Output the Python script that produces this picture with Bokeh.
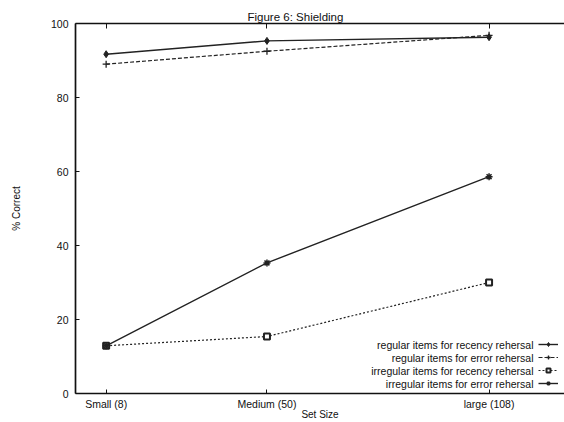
from bokeh.plotting import figure
from bokeh.models import (Range1d, FixedTicker, LinearAxis, Label, Legend, LegendItem)
from bokeh.embed import file_html
from bokeh.resources import INLINE

# ---- data ----
set_sizes = [8, 50, 108]
set_labels = ["Small (8)", "Medium (50)", "large (108)"]
reg_recency = [91.7, 95.3, 96.3]
reg_error = [89.0, 92.5, 96.8]
irr_recency = [12.9, 15.4, 30.0]
irr_error = [12.9, 35.3, 58.6]
series_names = [
    "regular items for recency rehersal",
    "regular items for error rehersal",
    "irregular items for recency rehersal",
    "irregular items for error rehersal",
]
y_ticks = [0, 20, 40, 60, 80, 100]
X_MAX = 127.7

FONT = "Liberation Sans"
INK = "#111111"
FS = "10.5px"

p = figure(width=564, height=422, output_backend="svg", toolbar_location=None,
           x_range=Range1d(0, X_MAX), y_range=Range1d(0, 100),
           min_border_left=75, min_border_top=23, min_border_right=0,
           min_border_bottom=27)
p.outline_line_color = None
p.xgrid.visible = False
p.ygrid.visible = False
p.background_fill_color = "white"
p.border_fill_color = "white"

# title
p.title.text = "Figure 6:  Shielding"
p.title.align = "left"
p.title.offset = 172
p.title.standoff = 1
p.title.text_font = FONT
p.title.text_font_size = "11.5px"
p.title.text_font_style = "normal"
p.title.text_color = INK

# axes
xa = p.xaxis[0]
xa.ticker = FixedTicker(ticks=set_sizes)
xa.bounds = (0, X_MAX)
xa.major_label_overrides = {s: l for s, l in zip(set_sizes, set_labels)}
xa.minor_tick_line_color = None
xa.major_tick_in = 4
xa.major_tick_out = 0
xa.axis_line_width = 1.7
xa.axis_line_color = INK
xa.major_tick_line_color = INK
xa.major_label_text_font = FONT
xa.major_label_text_font_size = FS
xa.major_label_text_color = INK
xa.major_label_standoff = 4
xa.axis_label = "Set Size"
xa.axis_label_text_font = FONT
xa.axis_label_text_font_size = "10px"
xa.axis_label_text_font_style = "normal"
xa.axis_label_text_color = INK
xa.axis_label_standoff = -4

ya = p.yaxis[0]
ya.ticker = FixedTicker(ticks=y_ticks)
ya.minor_tick_line_color = None
ya.major_tick_in = 4
ya.major_tick_out = 0
ya.axis_line_width = 1.7
ya.axis_line_color = INK
ya.major_tick_line_color = INK
ya.major_label_text_font = FONT
ya.major_label_text_font_size = FS
ya.major_label_text_color = INK
ya.major_label_standoff = 7
ya.axis_label = "% Correct"
ya.axis_label_text_font = FONT
ya.axis_label_text_font_size = "10px"
ya.axis_label_text_font_style = "normal"
ya.axis_label_text_color = INK
ya.axis_label_standoff = 26

top = LinearAxis(ticker=FixedTicker(ticks=set_sizes))
top.bounds = (0, X_MAX)
top.major_label_overrides = {s: "" for s in set_sizes}
top.major_label_standoff = 0
top.minor_tick_line_color = None
top.major_tick_in = 5
top.major_tick_out = 0
top.axis_line_width = 1.7
top.axis_line_color = INK
top.major_tick_line_color = INK
p.add_layout(top, "above")

# series
LC = "#222222"
r1l = p.line(set_sizes, reg_recency, line_color=LC, line_width=1.4)
r1m = p.scatter(set_sizes, reg_recency, marker="diamond", size=7, color=LC)
r2l = p.line(set_sizes, reg_error, line_color=LC, line_width=1.2, line_dash="4 2")
r2m = p.scatter(set_sizes, reg_error, marker="cross", size=7, line_color=LC, line_width=1.3)
r3l = p.line(set_sizes, irr_recency, line_color=LC, line_width=1.2, line_dash="2 2")
r3m = p.scatter(set_sizes, irr_recency, marker="square", size=6, line_color=LC,
                fill_color="white", line_width=2)
r4l = p.line(set_sizes, irr_error, line_color=LC, line_width=1.4)
r4m = p.scatter(set_sizes, irr_error, marker="asterisk", size=7, line_color=LC, line_width=1.5)

renderer_pairs = [(r1l, r1m), (r2l, r2m), (r3l, r3m), (r4l, r4m)]

# legend samples (glyphs on the right, text drawn separately to their left)
legend = Legend(items=[LegendItem(label=" ", renderers=list(rp)) for rp in renderer_pairs],
                location=(463, 5), orientation="vertical", padding=0, margin=0,
                spacing=3, glyph_width=20, glyph_height=10, label_width=0,
                label_height=6, label_standoff=0, label_text_font_size="6px",
                border_line_color=None, background_fill_alpha=0)
p.add_layout(legend)

row_y = [49, 36, 23, 10]
for name, yy in zip(series_names, row_y):
    p.add_layout(Label(x=458, y=yy, x_units="screen", y_units="screen", text=name,
                       text_align="right", text_baseline="middle",
                       text_font=FONT, text_font_size=FS, text_color=INK))

open("out.html", "w").write(file_html(p, INLINE))
